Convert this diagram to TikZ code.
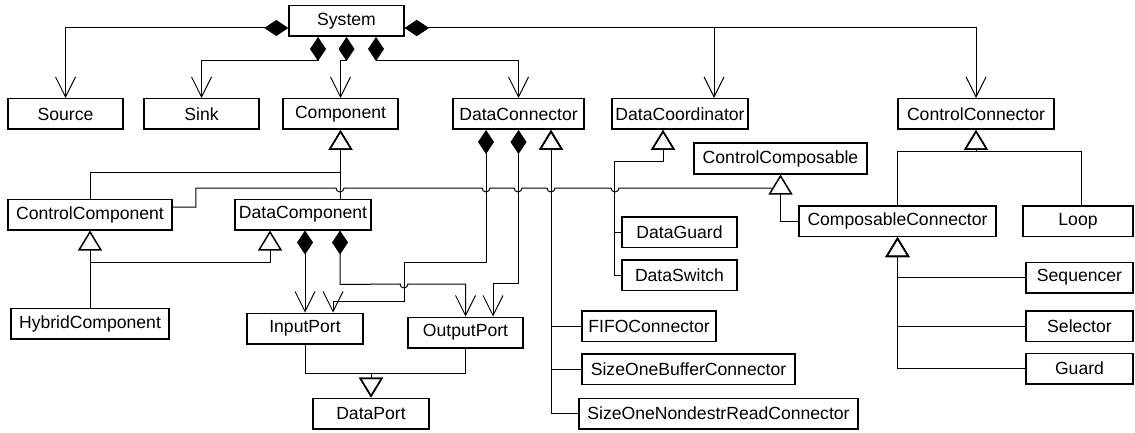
\documentclass[tikz,border=0pt]{standalone}
\usepackage{fontspec}
\setmainfont{Liberation Sans}
\usetikzlibrary{arrows.meta,calc}

\begin{document}
\begin{tikzpicture}[x=0.5pt,y=-0.5pt,
        cls/.style={draw,line width=0.75pt,minimum height=15.25pt,inner sep=0pt,font=\fontsize{8.8}{10}\selectfont},
        compo/.style={line width=0.5pt,arrows={Diamond[length=12pt,width=8pt]-Straight Barb[length=10pt,width=10pt]}},
        gen/.style={line width=0.5pt,arrows={-Triangle[open,length=10pt,width=12pt,line width=0.75pt]}}]
        \useasboundingbox (0,0) rectangle (1135,433);
        \node[cls,minimum width=57.5pt] (sys) at (346.5,21) {System};
        \node[cls,minimum width=57.5pt] (src) at (65.5,114) {Source};
        \node[cls,minimum width=57.5pt] (snk) at (201.5,114) {Sink};
        \node[cls,minimum width=57.5pt] (comp) at (340.5,114) {Component};
        \node[cls,minimum width=65.5pt] (dcon) at (518.5,114) {DataConnector};
        \node[cls,minimum width=68pt] (dcoord) at (680,114) {DataCoordinator};
        \node[cls,minimum width=78pt] (ccon) at (976,114) {ControlConnector};
        \node[cls,minimum width=82pt] (ccomp) at (90,214.5) {ControlComponent};
        \node[cls,minimum width=68pt] (dcomp) at (303,214.5) {DataComponent};
        \node[cls,minimum width=86.5pt] (ccmp) at (780.5,158.5) {ControlComposable};
        \node[cls,minimum width=98.5pt] (cconn) at (897.5,221) {ComposableConnector};
        \node[cls,minimum width=55pt] (loop) at (1078,221) {Loop};
        \node[cls,minimum width=53.5pt] (seq) at (1079.5,277.5) {Sequencer};
        \node[cls,minimum width=53.5pt] (sel) at (1079.5,326) {Selector};
        \node[cls,minimum width=53.5pt] (grd) at (1079.5,368.5) {Guard};
        \node[cls,minimum width=57.5pt] (dguard) at (679.5,232) {DataGuard};
        \node[cls,minimum width=57.5pt] (dswitch) at (679.5,275) {DataSwitch};
        \node[cls,minimum width=79pt] (hyb) at (90,323.5) {HybridComponent};
        \node[cls,minimum width=58pt] (inp) at (305,328.5) {InputPort};
        \node[cls,minimum width=57.5pt] (outp) at (465.5,332.5) {OutputPort};
        \node[cls,minimum width=58pt] (dport) at (371,413.5) {DataPort};
        \node[cls,minimum width=67pt] (fifo) at (649,326) {FIFOConnector};
        \node[cls,minimum width=106.5pt] (sobuf) at (688.5,369) {SizeOneBufferConnector};
        \node[cls,minimum width=139.5pt] (sondr) at (718.5,413.5) {SizeOneNondestrReadConnector};

        \draw[compo] ([yshift=-3.5pt]sys.west) -| (src.north);
        \draw[compo] ([xshift=-14.25pt]sys.south) -- ++(0,24) -| (snk.north);
        \draw[compo] (sys.south) -- ++(0,24) -| (comp.north);
        \draw[compo] ([xshift=14.75pt]sys.south) -- ++(0,24) -| (dcon.north);
        \draw[compo] ([yshift=-3.5pt]sys.east) -| ([xshift=17pt]dcoord.north);
        \draw[compo] ([yshift=-3.5pt]sys.east) -| (ccon.north);

        \draw[gen] (ccomp.north) -- ++(0,-26) -| (comp.south);
        \draw[gen] (dcomp.north -| comp.south) -- (comp.south);
        \draw[gen] (hyb.north) -- (ccomp.south);
        \draw[gen] (hyb.north) ++(0,-45) -| ([xshift=-16.5pt]dcomp.south);
        \draw[gen] (cconn.west) -| (ccmp.south);
        \draw[line width=0.5pt] ([yshift=3.75pt]ccomp.east) -- ++(23,0) -- ++(0,-19)
            \foreach \hx in {340,486,518,551,615} { -- (\hx-4,188) arc[start angle=180,end angle=0,radius=4] } -- (772,188);
        \draw[gen] (cconn.north) -- ++(0,-53) -| (ccon.south);
        \draw[gen] ([xshift=1.5pt]loop.north) -- ++(0,-53) -| (ccon.south);
        \draw[gen] (seq.west) -| (cconn.south);
        \draw[gen] (sel.west) -| (cconn.south);
        \draw[gen] (grd.west) -| (cconn.south);
        \draw[gen] (dguard.west) -- ++(-7,0) -- ++(0,-71) -| ([xshift=-8.5pt]dcoord.south);
        \draw[gen] (dswitch.west) -- ++(-7,0) -- ++(0,-114) -| ([xshift=-8.5pt]dcoord.south);
        \draw[gen] (fifo.west) -| ([xshift=16.25pt]dcon.south);
        \draw[gen] (sobuf.west) -| ([xshift=16.25pt]dcon.south);
        \draw[gen] (sondr.west) -| ([xshift=16.25pt]dcon.south);
        \draw[gen] (inp.south) -- ++(0,29) -| (dport.north);
        \draw[gen] (outp.south) -- ++(0,25) -| (dport.north);

        \draw[compo] (dcomp.south -| inp.north) -- (inp.north);
        \draw[compo] ([xshift=18.5pt]dcomp.south) -- ++(0,54) -- (400,284) arc[start angle=180,end angle=0,radius=4] -| (outp.north);
        \draw[compo] ([xshift=-16.25pt]dcon.south) -- ++(0,132) -- ++(-82,0) -- ++(0,39) -| ([xshift=14pt]inp.north);
        \draw[compo] (dcon.south) -- ++(0,153) -| ([xshift=13.75pt]outp.north);
    \end{tikzpicture}
\end{document}
